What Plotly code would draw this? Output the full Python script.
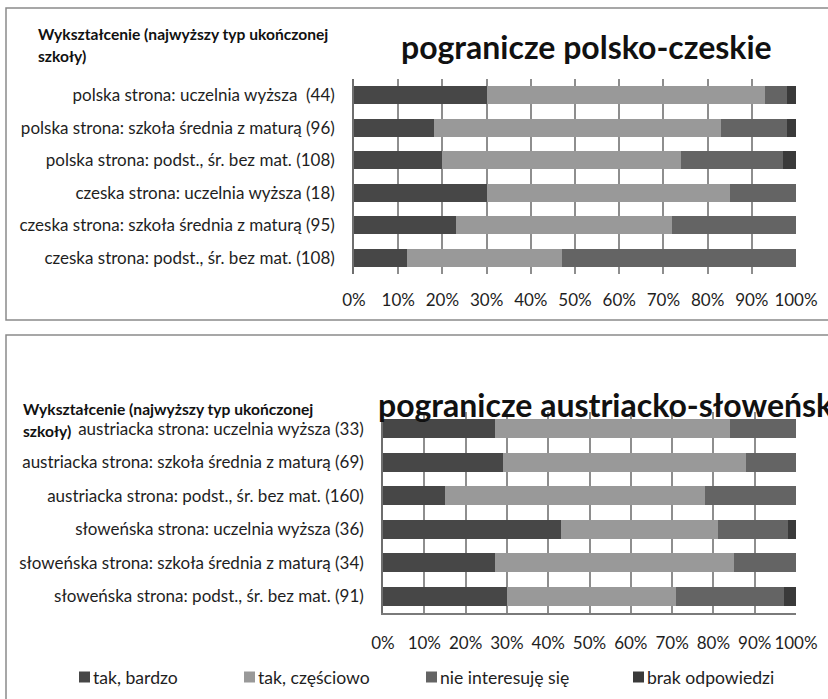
import plotly.graph_objects as go

# --- data -------------------------------------------------------------
series_names = ["tak, bardzo", "tak, częściowo", "nie interesuję się", "brak odpowiedzi"]
series_colors = ["#474747", "#999999", "#646464", "#3a3a3a"]

pl_cz_rows = [
    "polska strona: uczelnia wyższa  (44)",
    "polska strona: szkoła średnia z maturą (96)",
    "polska strona: podst., śr. bez mat. (108)",
    "czeska strona: uczelnia wyższa (18)",
    "czeska strona: szkoła średnia z maturą (95)",
    "czeska strona: podst., śr. bez mat. (108)",
]
pl_cz_tak_bardzo = [30, 18, 20, 30, 23, 12]
pl_cz_tak_czesciowo = [63, 65, 54, 55, 49, 35]
pl_cz_nie_interesuje = [5, 15, 23, 15, 28, 53]
pl_cz_brak = [2, 2, 3, 0, 0, 0]

at_si_rows = [
    "austriacka strona: uczelnia wyższa (33)",
    "austriacka strona: szkoła średnia z maturą (69)",
    "austriacka strona: podst., śr. bez mat. (160)",
    "słoweńska strona: uczelnia wyższa (36)",
    "słoweńska strona: szkoła średnia z maturą (34)",
    "słoweńska strona: podst., śr. bez mat. (91)",
]
at_si_tak_bardzo = [27, 29, 15, 43, 27, 30]
at_si_tak_czesciowo = [57, 59, 63, 38, 58, 41]
at_si_nie_interesuje = [16, 12, 22, 17, 15, 26]
at_si_brak = [0, 0, 0, 2, 0, 3]

x_ticks = list(range(0, 101, 10))
x_tick_labels = [f"{v}%" for v in x_ticks]

chart_titles = ["pogranicze polsko-czeskie", "pogranicze austriacko-słoweńskie"]
side_title_lines = ["Wykształcenie (najwyższy typ ukończonej", "szkoły)"]

# --- page geometry (pixels) --------------------------------------------
W, H = 828, 699
FONT = "Lato, Liberation Sans, sans-serif"
GRID = "#8e8e8e"
AXIS = "#6e6e6e"


def px(x):
    return x / W


def py(y):
    return 1 - y / H


fig = go.Figure()

panels = [
    dict(rows=pl_cz_rows,
         vals=[pl_cz_tak_bardzo, pl_cz_tak_czesciowo, pl_cz_nie_interesuje, pl_cz_brak],
         xa="x", ya="y", xdom=(354, 796), ydom=(79, 274), bottom_line=False),
    dict(rows=at_si_rows,
         vals=[at_si_tak_bardzo, at_si_tak_czesciowo, at_si_nie_interesuje, at_si_brak],
         xa="x2", ya="y2", xdom=(383, 796), ydom=(412, 613), bottom_line=True),
]

for p in panels:
    for name, color, v in zip(series_names, series_colors, p["vals"]):
        fig.add_trace(go.Bar(
            y=p["rows"], x=v, name=name, orientation="h", marker_color=color,
            width=0.56, xaxis=p["xa"], yaxis=p["ya"], showlegend=False,
            hovertemplate="%{y}<br>" + name + ": %{x}%<extra></extra>",
        ))

tick_font = dict(family=FONT, size=17, color="#1e1e1e")

for i, p in enumerate(panels):
    sfx = "" if i == 0 else "2"
    fig.layout["xaxis" + sfx] = dict(
        domain=[px(p["xdom"][0]), px(p["xdom"][1])],
        anchor="y" + sfx, range=[0, 100], tickmode="array",
        tickvals=x_ticks, ticktext=x_tick_labels,
        showgrid=True, gridcolor=GRID, gridwidth=2,
        zeroline=False, showline=p["bottom_line"], linecolor="#7a7a7a", linewidth=1.5,
        tickfont=tick_font, ticklabelstandoff=14, fixedrange=True,
    )
    fig.layout["yaxis" + sfx] = dict(
        domain=[py(p["ydom"][1]), py(p["ydom"][0])],
        anchor="x" + sfx, autorange="reversed", type="category",
        showgrid=False, zeroline=False, showline=True, linecolor=AXIS, linewidth=1.5,
        tickfont=tick_font, ticklabelstandoff=14, fixedrange=True,
    )

# panel frames
frame = dict(type="rect", xref="paper", yref="paper",
             line=dict(color="#8a8a8a", width=1.5), fillcolor="rgba(0,0,0,0)")
fig.add_shape(**frame, x0=px(6), x1=px(860), y0=py(320), y1=py(8))
fig.add_shape(**frame, x0=px(6), x1=px(860), y0=py(740), y1=py(335))

annotations = []
# chart titles
for title, (lx, cy) in zip(chart_titles, [(399, 47), (376, 404)]):
    annotations.append(dict(text=f"<b>{title}</b>", x=px(lx), y=py(cy), xref="paper", yref="paper",
                            xanchor="left", yanchor="middle", showarrow=False,
                            font=dict(family=FONT, size=32, color="#111111")))
# side titles (two lines each)
for lx, ty in ((36, 34), (21, 409)):
    for k, line in enumerate(side_title_lines):
        annotations.append(dict(text=f"<b>{line}</b>", x=px(lx), y=py(ty + 22 * k),
                                xref="paper", yref="paper", xanchor="left", yanchor="middle",
                                showarrow=False, font=dict(family=FONT, size=15.6, color="#111111")))

# legend
legend_x = [79, 244, 426, 633]
legend_y = 677
for name, color, lx in zip(series_names, series_colors, legend_x):
    fig.add_shape(type="rect", xref="paper", yref="paper",
                  x0=px(lx), x1=px(lx + 11), y0=py(legend_y + 5.5), y1=py(legend_y - 5.5),
                  fillcolor=color, line=dict(width=0))
    annotations.append(dict(text=name, x=px(lx + 12), y=py(legend_y), xref="paper", yref="paper",
                            xanchor="left", yanchor="middle", showarrow=False,
                            font=dict(family=FONT, size=17.6, color="#1e1e1e")))

fig.update_layout(
    template="none",
    width=W, height=H, margin=dict(l=0, r=0, t=0, b=0, autoexpand=False),
    paper_bgcolor="white", plot_bgcolor="white",
    barmode="stack", annotations=annotations,
)

fig.write_html("out.html", config={"displayModeBar": False})
